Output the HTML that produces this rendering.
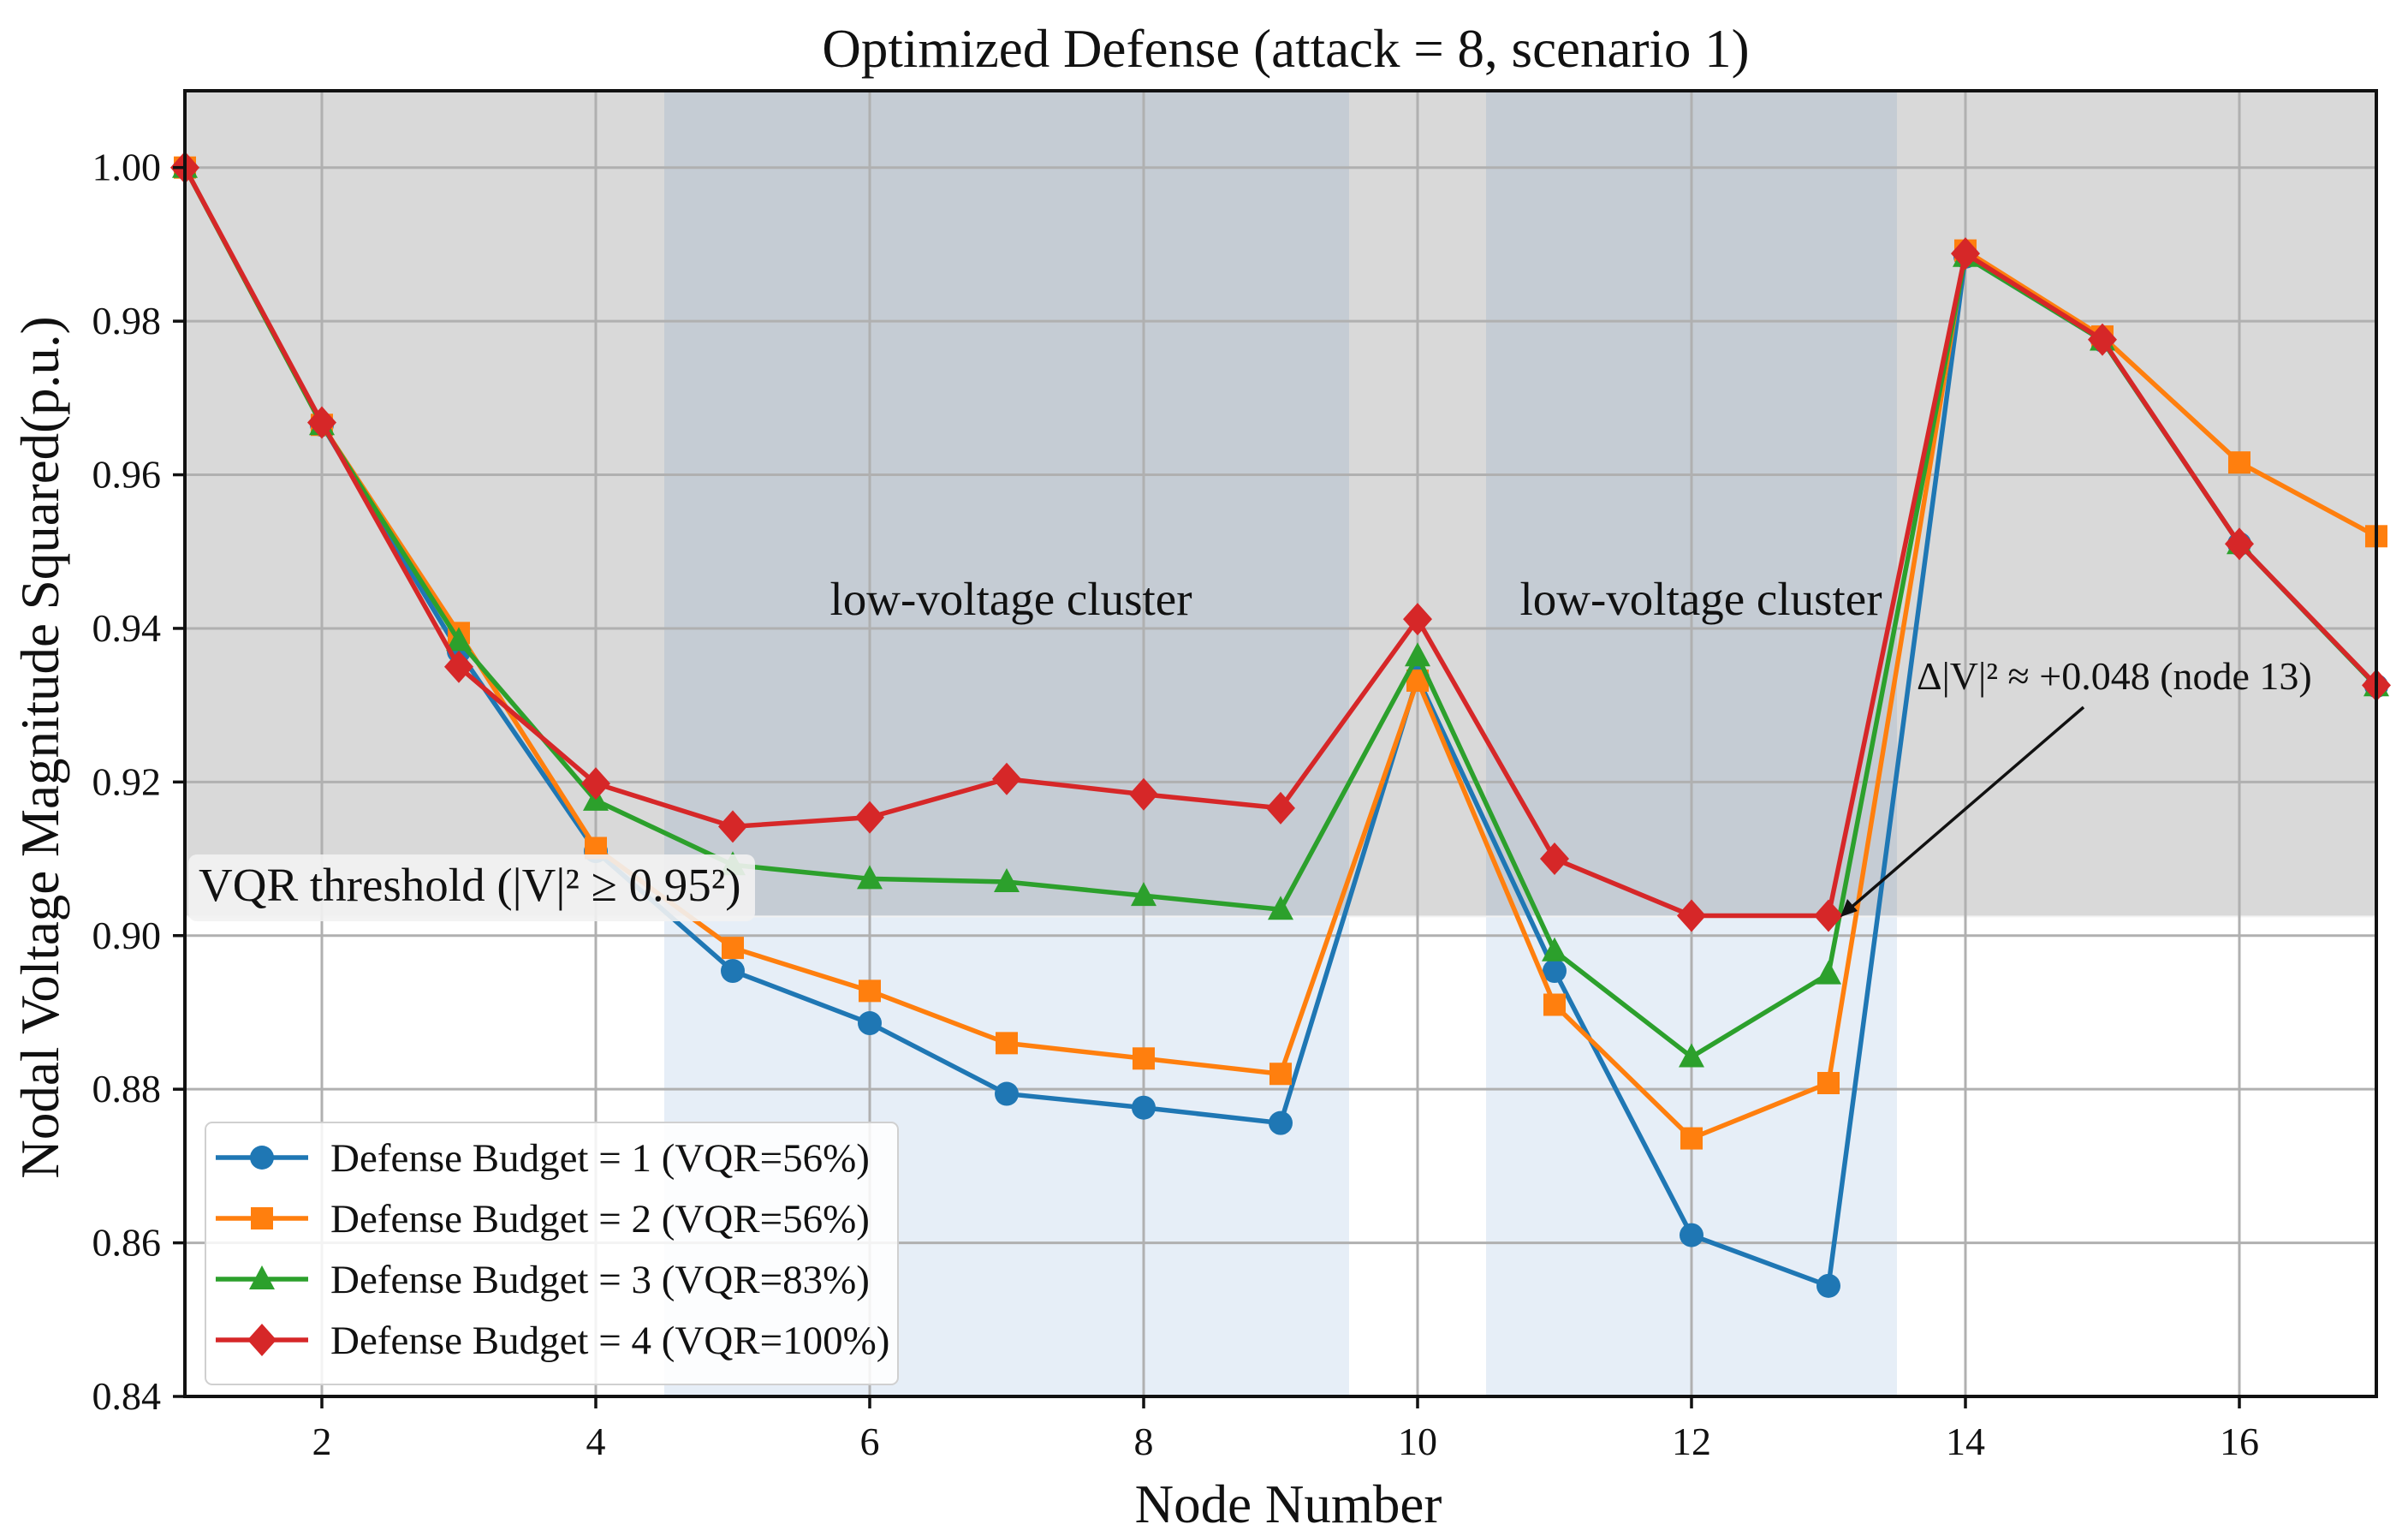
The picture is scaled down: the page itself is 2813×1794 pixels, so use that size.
<!DOCTYPE html>
<html><head><meta charset="utf-8"><style>html,body{margin:0;padding:0;background:#fff}svg{display:block}text{font-family:"Liberation Serif",serif;fill:#111}</style></head>
<body>
<svg id="chart" width="2813" height="1794" viewBox="0 0 2813 1794" xmlns="http://www.w3.org/2000/svg">
<g id="bg"></g><g id="grid"></g><g id="series"></g><g id="axes"></g><g id="extra"></g>
</svg>
<script>
const nodes=[1,2,3,4,5,6,7,8,9,10,11,12,13,14,15,16,17];
const budget1=[1.0,0.9665,0.937,0.911,0.8954,0.8886,0.8794,0.8776,0.8756,0.9336,0.8954,0.861,0.8544,0.9884,0.9775,0.951,0.9325];
const budget2=[1.0,0.9665,0.9394,0.9114,0.8984,0.8928,0.886,0.884,0.882,0.9332,0.891,0.8736,0.8808,0.9892,0.978,0.9616,0.952];
const budget3=[1.0,0.9665,0.9384,0.9176,0.9092,0.9074,0.907,0.9052,0.9034,0.9364,0.898,0.8842,0.895,0.9884,0.9775,0.951,0.9325];
const budget4=[1.0,0.9668,0.935,0.9198,0.9142,0.9154,0.9204,0.9184,0.9166,0.9412,0.91,0.9026,0.9026,0.9888,0.9776,0.951,0.9326];
const seriesLabels=["Defense Budget = 1 (VQR=56%)","Defense Budget = 2 (VQR=56%)","Defense Budget = 3 (VQR=83%)","Defense Budget = 4 (VQR=100%)"];
const xTicks=[2,4,6,8,10,12,14,16];
const yTicks=[0.84,0.86,0.88,0.90,0.92,0.94,0.96,0.98,1.00];
const threshold=0.9025;
const clusters=[[4.5,9.5],[10.5,13.5]];

const NS="http://www.w3.org/2000/svg";
const L=216,R=2776,T=106,B=1631;
const X=n=>L+(n-1)*(R-L)/16;
const Y=v=>B-(v-0.84)*(B-T)/0.17;
function mk(tag,attrs,parent){const e=document.createElementNS(NS,tag);for(const k in attrs)e.setAttribute(k,attrs[k]);document.getElementById(parent).appendChild(e);return e;}
let r=mk('rect',{x:L,y:T,width:R-L,height:B-T,fill:'#ffffff'},'bg');


r=mk('rect',{x:L,y:T,width:R-L,height:Y(threshold)-T,fill:'#d9d9d9'},'bg');


clusters.forEach(c=>{
 let a=mk('rect',{x:X(c[0]),y:Y(threshold),width:X(c[1])-X(c[0]),height:B-Y(threshold),fill:'#e6eef7'},'bg');
 
 
 let b=mk('rect',{x:X(c[0]),y:T,width:X(c[1])-X(c[0]),height:Y(threshold)-T,fill:'#c5ccd4'},'bg');
 
 
});
mk('line',{x1:L,x2:R,y1:Y(threshold),y2:Y(threshold),stroke:'#f2f2f2','stroke-width':2},'bg');
xTicks.forEach(t=>{let g=mk('line',{x1:X(t),x2:X(t),y1:T,y2:B,stroke:'#b0b0b0','stroke-width':3},'grid');});
yTicks.forEach(t=>{let g=mk('line',{x1:L,x2:R,y1:Y(t),y2:Y(t),stroke:'#b0b0b0','stroke-width':3},'grid');});
const data=[budget1,budget2,budget3,budget4];
const colors=['#1f77b4','#ff7f0e','#2ca02c','#d62728'];
const shapes=['circle','square','triangle','diamond'];
function marker(shape,x,y,c,parent){
 let e;
 if(shape==='circle')e=mk('circle',{cx:x,cy:y,r:14,fill:c},parent);
 else if(shape==='square')e=mk('rect',{x:x-13,y:y-13,width:26,height:26,fill:c},parent);
 else if(shape==='triangle')e=mk('polygon',{points:`${x},${y-16} ${x+15},${y+12} ${x-15},${y+12}`,fill:c},parent);
 else e=mk('polygon',{points:`${x},${y-19} ${x+17},${y} ${x},${y+19} ${x-17},${y}`,fill:c},parent);
 return e;
}
data.forEach((s,i)=>{
 let p=mk('polyline',{points:s.map((v,j)=>X(nodes[j])+','+Y(v)).join(' '),fill:'none',stroke:colors[i],'stroke-width':5.5,'stroke-linejoin':'round'},'series');
 
 
 s.forEach((v,j)=>{let m=marker(shapes[i],X(nodes[j]),Y(v),colors[i],'series');
  
  });
});
let fr=mk('rect',{x:L,y:T,width:R-L,height:B-T,fill:'none',stroke:'#111','stroke-width':4},'axes');


xTicks.forEach(t=>{mk('line',{x1:X(t),x2:X(t),y1:B,y2:B+14,stroke:'#111','stroke-width':3.5},'axes');
 let tx=mk('text',{x:X(t),y:B+68,'font-size':46,'text-anchor':'middle'},'axes');tx.textContent=t;
 
 });
yTicks.forEach(t=>{mk('line',{x1:L-14,x2:L,y1:Y(t),y2:Y(t),stroke:'#111','stroke-width':3.5},'axes');
 let tx=mk('text',{x:L-28,y:Y(t)+15,'font-size':46,'text-anchor':'end'},'axes');tx.textContent=t.toFixed(2);
 
 });
const lg=document.createElementNS(NS,'g');document.getElementById('extra').appendChild(lg);lg.id='legend';


mk('rect',{x:240,y:1311,width:809,height:306,rx:8,fill:'#ffffff','fill-opacity':0.85,stroke:'#d0d0d0','stroke-width':2},'legend');
seriesLabels.forEach((lab,i)=>{const y=1352+i*71;
 mk('line',{x1:252,x2:360,y1:y,y2:y,stroke:colors[i],'stroke-width':5.5},'legend');
 marker(shapes[i],306,y,colors[i],'legend');
 let tx=mk('text',{x:386,y:y+16,'font-size':47},'legend');tx.textContent=lab;
 
 });
</script>
<script>
const svg=document.getElementById('chart');
svg.insertAdjacentHTML('beforeend',`
<text x="1502" y="78" font-size="63" text-anchor="middle">Optimized Defense (attack = 8, scenario 1)</text>
<text x="1505" y="1778" font-size="63" text-anchor="middle">Node Number</text>
<text transform="translate(68,873) rotate(-90)" font-size="63" text-anchor="middle">Nodal Voltage Magnitude Squared(p.u.)</text>
<text x="1181" y="718" font-size="55" text-anchor="middle">low-voltage cluster</text>
<text x="1987" y="718" font-size="55" text-anchor="middle">low-voltage cluster</text>
<rect x="220" y="998" width="662" height="78" rx="10" fill="#f2f2f2" fill-opacity="0.9"/>
<text x="232" y="1052" font-size="55">VQR threshold (|V|² ≥ 0.95²)</text>
<text x="2239" y="805" font-size="46">Δ|V|² ≈ +0.048 (node 13)</text>
<line x1="2434" y1="826" x2="2160" y2="1062" stroke="#111" stroke-width="3.5"/>
<polygon points="2150,1071 2158,1050 2170,1064" fill="#111"/>
`);
</script>
</body></html>
